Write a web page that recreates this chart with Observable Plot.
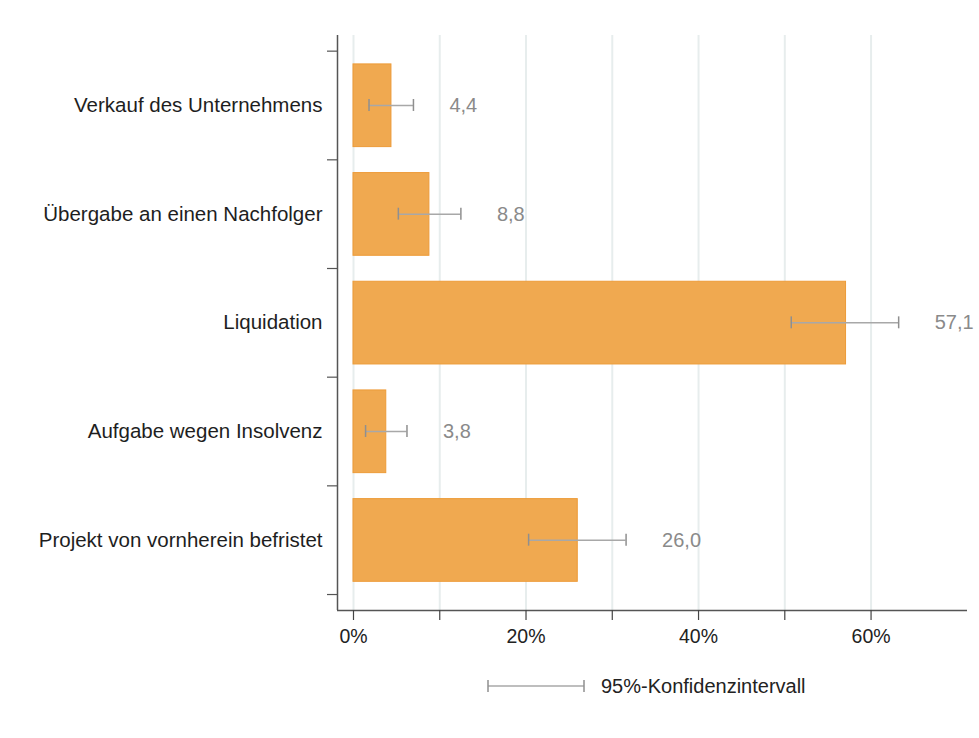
<!DOCTYPE html>
<html>
<head>
<meta charset="utf-8">
<script src="https://cdn.jsdelivr.net/npm/d3@7"></script>
<script src="https://cdn.jsdelivr.net/npm/@observablehq/plot@0.6"></script>
<style>
  body { margin: 0; background: #fff; font-family: "Liberation Sans", Arial, sans-serif; }
  #chart svg { display: block; }
  #legend { display: flex; align-items: center; height: 30px; margin-top: 9px; margin-left: 487px; font-size: 20px; color: #222; }
  #legend span { margin-left: 14px; }
</style>
</head>
<body>
<div id="chart"></div>
<div id="legend"></div>
<script>
// ---- data ----
const categories = [
  "Verkauf des Unternehmens",
  "Übergabe an einen Nachfolger",
  "Liquidation",
  "Aufgabe wegen Insolvenz",
  "Projekt von vornherein befristet"
];
const values = [4.4, 8.8, 57.1, 3.8, 26.0];
const ciLow  = [1.8, 5.2, 50.75, 1.4, 20.3];
const ciHigh = [6.95, 12.45, 63.2, 6.2, 31.6];
const xTicks = [0, 10, 20, 30, 40, 50, 60];
const legendLabel = "95%-Konfidenzintervall";

const rows = categories.map((c, i) => ({i, cat: c, value: values[i], lo: ciLow[i], hi: ciHigh[i]}));
const fmt = v => d3.format(".1f")(v).replace(".", ",");

const W = 979, H = 662;
const xMin = -1.854, xMax = 71.18;
const yMin = -0.144, yMax = 5.147;

const plot = Plot.plot({
  width: W,
  height: H,
  marginLeft: 337,
  marginRight: 12,
  marginTop: 35,
  marginBottom: H - 610,
  style: {fontFamily: "'Liberation Sans', Arial, sans-serif", background: "#fff"},
  x: {domain: [xMin, xMax]},
  y: {domain: [yMin, yMax], reverse: true},
  marks: [
    Plot.ruleX(xTicks, {stroke: "#e7eded", strokeWidth: 2}),
    Plot.rect(rows, {
      x1: () => 0, x2: "value",
      y1: d => d.i + 0.122, y2: d => d.i + 0.883,
      fill: "#f0a950", stroke: "#ed9b38", strokeWidth: 1
    }),
    Plot.ruleY(rows, {y: d => d.i + 0.5, x1: "lo", x2: "hi", stroke: "#a8a8a8", strokeWidth: 1.5}),
    Plot.ruleX(rows, {x: "lo", y1: d => d.i + 0.445, y2: d => d.i + 0.555, stroke: "#8f8f8f", strokeWidth: 1.5}),
    Plot.ruleX(rows, {x: "hi", y1: d => d.i + 0.445, y2: d => d.i + 0.555, stroke: "#8f8f8f", strokeWidth: 1.5}),
    Plot.text(rows, {
      x: "hi", y: d => d.i + 0.5, text: d => fmt(d.value),
      dx: 36, textAnchor: "start", fill: "#8a8a8a", fontSize: 20
    }),
    Plot.ruleX([xMin], {stroke: "#555", strokeWidth: 1.5}),
    Plot.ruleY([yMax], {stroke: "#555", strokeWidth: 1.5}),
    Plot.axisY({
      ticks: d3.range(0, categories.length + 1),
      tickSize: 10, tickFormat: () => "", stroke: "#555", strokeWidth: 1.2
    }),
    Plot.axisY({
      ticks: categories.map((c, i) => i + 0.5),
      tickSize: 0, tickPadding: 15,
      tickFormat: t => categories[Math.round(t - 0.5)],
      fontSize: 20.5, fill: "#1e1e1e"
    }),
    Plot.axisX({
      ticks: xTicks, tickSize: 10, tickPadding: 9,
      tickFormat: d => d % 20 === 0 ? d + "%" : "",
      fontSize: 19.5, fill: "#222", stroke: "#444", strokeWidth: 1.2
    })
  ]
});
document.getElementById("chart").appendChild(plot);

// legend (sample of the confidence interval whisker)
const lg = document.getElementById("legend");
lg.innerHTML = `<svg width="100" height="14" style="display:block">
  <line x1="1" x2="97" y1="7" y2="7" stroke="#a8a8a8" stroke-width="1.5"></line>
  <line x1="1" x2="1" y1="1" y2="13" stroke="#8f8f8f" stroke-width="1.5"></line>
  <line x1="97" x2="97" y1="1" y2="13" stroke="#8f8f8f" stroke-width="1.5"></line>
</svg><span></span>`;
lg.querySelector("span").textContent = legendLabel;
</script>
</body>
</html>
